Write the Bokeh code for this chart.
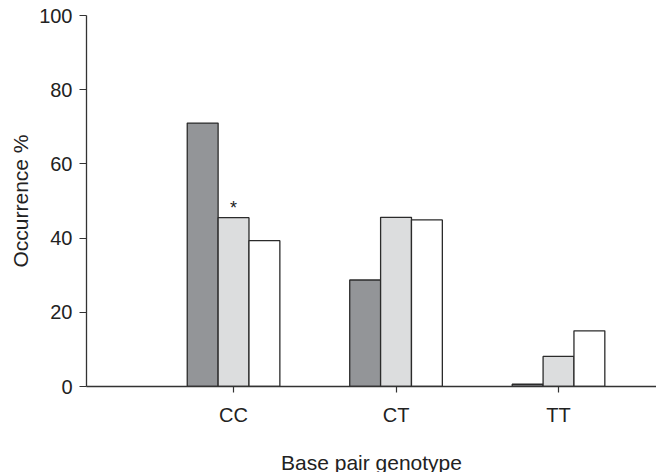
import numpy as np
from bokeh.plotting import figure
from bokeh.models import Range1d, FixedTicker, ColumnDataSource
from bokeh.core.properties import value
from bokeh.embed import file_html
from bokeh.resources import INLINE

# ---- data ----
genotypes = ["CC", "CT", "TT"]
series_names = ["Group 1", "Group 2", "Group 3"]
group1 = [71.0, 28.7, 0.6]
group2 = [45.5, 45.6, 8.1]
group3 = [39.3, 44.9, 15.0]
y_ticks = [0, 20, 40, 60, 80, 100]
marked_genotype = "CC"   # asterisk over Group 2 bar

# ---- styles ----
fills = ["#939598", "#dcddde", "#ffffff"]
outline = "#2b2b2b"
text_color = "#222222"
font = "Liberation Sans"
bar_w = 0.19

xs = np.arange(len(genotypes))

p = figure(
    output_backend="svg",
    toolbar_location=None,
    frame_width=570,
    frame_height=371,
    min_border_left=86,
    min_border_right=0,
    min_border_top=15,
    min_border_bottom=86,
    x_range=Range1d(-0.905, 2.603),
    y_range=Range1d(0, 100),
)
p.outline_line_color = None
p.xgrid.visible = False
p.ygrid.visible = False
p.background_fill_color = "white"
p.border_fill_color = "white"

offsets = [-bar_w, 0.0, bar_w]
for vals, fill, off in zip([group1, group2, group3], fills, offsets):
    src = ColumnDataSource(dict(x=xs + off, top=vals))
    p.vbar(x="x", top="top", bottom=0, width=bar_w, source=src,
           fill_color=fill, line_color=outline, line_width=1.3)

# asterisk
mi = genotypes.index(marked_genotype)
p.text(x=[xs[mi]], y=[group2[mi]], text=["*"], text_align="center",
       text_baseline="bottom", y_offset=0,
       text_font=value(font), text_font_size="18px", text_color=text_color)

# axes
for ax in (p.xaxis[0], p.yaxis[0]):
    ax.axis_line_color = "#333333"
    ax.axis_line_width = 1.3
    ax.major_tick_line_color = "#333333"
    ax.major_tick_line_width = 1.2
    ax.minor_tick_line_color = None
    ax.major_tick_in = 0
    ax.major_label_text_font = font
    ax.major_label_text_color = text_color
    ax.major_label_text_font_size = "20px"
    ax.axis_label_text_font = font
    ax.axis_label_text_color = text_color
    ax.axis_label_text_font_size = "21px"
    ax.axis_label_text_font_style = "normal"

p.xaxis.ticker = FixedTicker(ticks=list(xs))
p.xaxis.major_label_overrides = {int(i): g for i, g in zip(xs, genotypes)}
p.xaxis.major_tick_out = 6
p.xaxis.major_label_standoff = 11
p.xaxis.axis_label = "Base pair genotype"
p.xaxis.axis_label_standoff = 22

p.yaxis.ticker = FixedTicker(ticks=y_ticks)
p.yaxis.major_tick_out = 7
p.yaxis.major_label_standoff = 7
p.yaxis.axis_label = "Occurrence %"
p.yaxis.axis_label_standoff = 4

open("out.html", "w").write(file_html(p, INLINE))
